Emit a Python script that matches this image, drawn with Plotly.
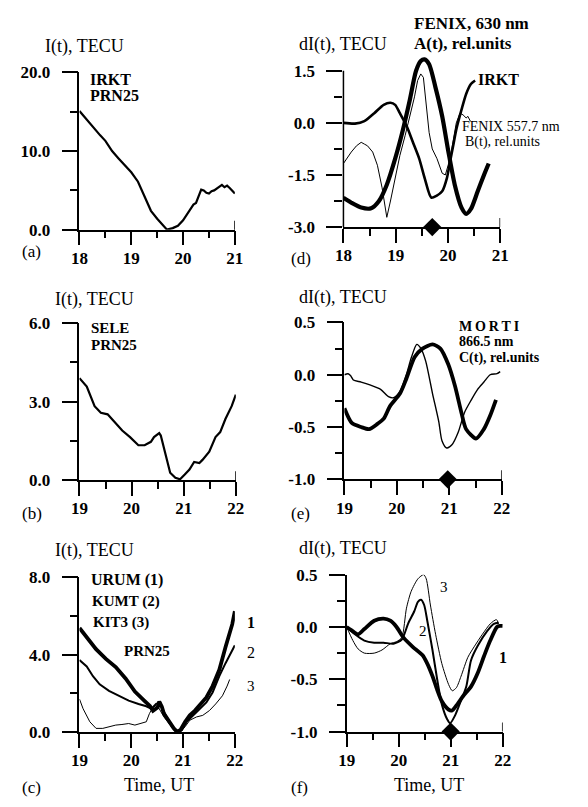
import plotly.graph_objects as go

W, H = 588, 807

# ---------------- data ----------------
# (a) IRKT PRN25, I(t)
t_a = [18.00, 18.10, 18.20, 18.30, 18.40, 18.50, 18.63, 18.75, 18.90, 19.00, 19.13, 19.26,
       19.38, 19.50, 19.63, 19.69, 19.80, 19.90, 20.00, 20.08, 20.13, 20.20, 20.25, 20.30,
       20.35, 20.40, 20.45, 20.50, 20.55, 20.60, 20.65, 20.70, 20.75, 20.80, 20.85, 20.90,
       20.95, 21.00]
i_a = [15.1, 14.3, 13.5, 12.8, 12.0, 11.3, 10.0, 9.1, 8.0, 7.3, 6.1, 4.1,
       2.4, 1.4, 0.5, 0.0, 0.2, 0.5, 1.2, 2.0, 2.6, 3.2, 3.4, 4.2,
       5.1, 5.0, 4.7, 4.6, 4.9, 5.0, 5.2, 5.5, 5.7, 5.4, 5.6, 5.3,
       4.9, 4.6]

# (b) SELE PRN25, I(t)
t_b = [19.00, 19.14, 19.29, 19.41, 19.54, 19.69, 19.82, 19.97, 20.13, 20.25, 20.37, 20.43,
       20.53, 20.56, 20.65, 20.74, 20.84, 20.93, 21.02, 21.11, 21.20, 21.30, 21.36, 21.49,
       21.61, 21.70, 21.80, 21.92, 22.00]
i_b = [3.90, 3.58, 2.83, 2.58, 2.52, 2.20, 1.90, 1.65, 1.34, 1.34, 1.47, 1.65,
       1.80, 1.71, 0.97, 0.29, 0.10, 0.04, 0.22, 0.41, 0.70, 0.66, 0.78, 1.09,
       1.65, 1.84, 2.34, 2.83, 3.27]

# (c) URUM (1), KUMT (2), KIT3 (3), PRN25
t_c1 = [19.00, 19.14, 19.32, 19.51, 19.70, 19.89, 20.07, 20.26, 20.36, 20.42, 20.51, 20.54,
        20.59, 20.63, 20.73, 20.82, 20.88, 20.95, 21.04, 21.13, 21.23, 21.32, 21.45, 21.57,
        21.70, 21.82, 21.95, 22.00]
i_c1 = [5.37, 4.87, 4.28, 3.78, 3.36, 2.77, 2.10, 1.61, 1.36, 1.11, 1.28, 1.58,
        1.32, 0.96, 0.54, 0.20, 0.03, 0.12, 0.54, 0.87, 1.12, 1.38, 1.79, 2.38,
        3.22, 4.39, 5.57, 6.24]
t_c2 = [19.00, 19.14, 19.26, 19.39, 19.57, 19.76, 19.95, 20.14, 20.29, 20.39, 20.48, 20.56,
        20.60, 20.70, 20.79, 20.88, 20.98, 21.07, 21.20, 21.32, 21.45, 21.57, 21.70, 21.82,
        21.95, 22.00]
i_c2 = [3.72, 3.39, 2.89, 2.47, 2.13, 1.88, 1.63, 1.46, 1.34, 1.21, 1.46, 1.54,
        1.21, 0.70, 0.29, 0.00, 0.12, 0.54, 0.87, 1.21, 1.54, 2.05, 2.89, 3.56,
        4.23, 4.48]
t_c3 = [19.00, 19.07, 19.20, 19.32, 19.45, 19.57, 19.70, 19.82, 19.95, 20.07, 20.20, 20.29,
        20.35, 20.42, 20.48, 20.54, 20.63, 20.76, 20.85, 20.95, 21.04, 21.13, 21.26, 21.38,
        21.51, 21.63, 21.76, 21.85, 21.90]
i_c3 = [1.71, 1.21, 0.54, 0.20, 0.20, 0.29, 0.37, 0.40, 0.45, 0.37, 0.45, 0.54,
        0.96, 1.29, 1.38, 1.21, 0.79, 0.37, 0.03, 0.03, 0.29, 0.62, 0.79, 0.87,
        1.12, 1.46, 1.88, 2.38, 2.72]

# (d) IRKT dI(t), FENIX 630 nm A(t), FENIX 557.7 nm B(t)
t_d_irkt = [18.00, 18.22, 18.40, 18.59, 18.77, 18.90, 18.99, 19.08, 19.21, 19.33, 19.45, 19.56,
            19.68, 19.78, 19.89, 19.98, 20.04, 20.10, 20.16, 20.26, 20.35, 20.44, 20.52]
d_irkt = [0.00, -0.02, 0.05, 0.28, 0.52, 0.58, 0.52, 0.28, -0.09, -0.56, -1.03, -1.62,
          -2.15, -2.10, -1.97, -1.59, -1.12, -0.66, -0.19, 0.38, 0.84, 1.12, 1.22]
t_d_a = [18.00, 18.15, 18.34, 18.53, 18.68, 18.83, 18.99, 19.14, 19.27, 19.39, 19.48, 19.55,
         19.64, 19.76, 19.89, 20.01, 20.13, 20.26, 20.35, 20.44, 20.57, 20.69, 20.78]
a_630 = [-2.16, -2.30, -2.44, -2.46, -2.25, -1.78, -1.03, -0.19, 0.66, 1.50, 1.78, 1.83,
         1.69, 1.03, 0.19, -0.84, -1.78, -2.44, -2.62, -2.48, -1.97, -1.50, -1.17]
t_d_b = [18.00, 18.06, 18.15, 18.25, 18.34, 18.40, 18.46, 18.56, 18.65, 18.74, 18.83, 18.90,
         18.99, 19.08, 19.18, 19.27, 19.36, 19.42, 19.48, 19.53, 19.58, 19.64, 19.70, 19.79,
         19.89, 19.95, 20.04, 20.10, 20.16, 20.23, 20.29, 20.35, 20.38, 20.43]
b_557 = [-1.17, -1.03, -0.84, -0.66, -0.56, -0.61, -0.66, -0.84, -1.22, -1.87, -2.72, -2.25,
         -1.59, -0.94, -0.37, 0.19, 0.75, 1.22, 1.41, 1.31, 0.66, -0.28, -0.75, -1.03,
         -1.45, -1.50, -1.03, -0.56, 0.00, 0.28, 0.23, 0.14, 0.19, 0.05]
t_d_mark = [19.7]

# (e) SELE dI(t), MORTI 866.5 nm C(t)
t_e_c = [19.00, 19.14, 19.32, 19.47, 19.63, 19.75, 19.87, 20.06, 20.18, 20.34, 20.49, 20.68,
         20.83, 20.98, 21.11, 21.23, 21.32, 21.51, 21.66, 21.78, 21.89]
c_866 = [-0.32, -0.46, -0.50, -0.52, -0.47, -0.42, -0.30, -0.18, -0.04, 0.17, 0.25, 0.29,
         0.25, 0.10, -0.11, -0.36, -0.52, -0.61, -0.52, -0.39, -0.24]
t_e_sele = [19.00, 19.07, 19.12, 19.17, 19.32, 19.50, 19.69, 19.84, 19.94, 20.06, 20.18, 20.28,
            20.38, 20.46, 20.55, 20.68, 20.80, 20.86, 20.95, 21.05, 21.17, 21.29, 21.42, 21.54,
            21.66, 21.78, 21.91, 21.97]
d_sele = [0.00, 0.01, -0.01, -0.05, -0.07, -0.10, -0.14, -0.21, -0.22, -0.16, 0.00, 0.17,
          0.29, 0.25, 0.13, -0.18, -0.45, -0.63, -0.70, -0.67, -0.55, -0.36, -0.24, -0.14,
          -0.07, 0.00, 0.01, 0.03]
t_e_mark = [20.97]

# (f) dI(t) for URUM (1), KUMT (2), KIT3 (3)
t_f1 = [19.00, 19.09, 19.22, 19.34, 19.53, 19.71, 19.84, 19.96, 20.09, 20.27, 20.46, 20.55,
        20.65, 20.74, 20.83, 20.96, 21.02, 21.11, 21.24, 21.39, 21.52, 21.64, 21.76, 21.89,
        21.95, 22.00]
d_f1 = [0.00, -0.03, -0.07, -0.02, 0.06, 0.08, 0.06, 0.00, -0.10, -0.19, -0.27, -0.35,
        -0.47, -0.60, -0.71, -0.79, -0.80, -0.75, -0.66, -0.57, -0.44, -0.28, -0.13, 0.00,
        0.01, 0.01]
t_f2 = [19.00, 19.16, 19.34, 19.53, 19.71, 19.90, 20.06, 20.18, 20.30, 20.37, 20.43, 20.49,
        20.55, 20.65, 20.74, 20.83, 20.93, 20.99, 21.08, 21.17, 21.30, 21.39, 21.52, 21.70,
        21.83, 21.92]
d_f2 = [0.00, -0.07, -0.13, -0.15, -0.15, -0.16, -0.12, 0.03, 0.15, 0.24, 0.26, 0.21,
        0.06, -0.22, -0.50, -0.74, -0.88, -0.92, -0.85, -0.74, -0.57, -0.32, -0.18, -0.04,
        0.03, 0.04]
t_f3 = [19.00, 19.12, 19.22, 19.34, 19.53, 19.68, 19.84, 19.96, 20.06, 20.15, 20.24, 20.37,
        20.48, 20.53, 20.61, 20.71, 20.83, 20.96, 21.03, 21.11, 21.20, 21.33, 21.45, 21.61,
        21.76, 21.88, 21.92]
d_f3 = [0.00, -0.13, -0.21, -0.25, -0.25, -0.22, -0.16, -0.14, -0.10, 0.18, 0.34, 0.46,
        0.50, 0.46, 0.21, -0.07, -0.35, -0.55, -0.61, -0.58, -0.47, -0.29, -0.19, -0.07,
        0.03, 0.07, 0.03]
t_f_mark = [21.0]

# ---------------- ticks ----------------
x_ticks_18 = [18, 19, 20, 21]
x_ticks_19 = [19, 20, 21, 22]
y_a_ticks, y_a_text = [0, 10, 20], ["0.0", "10.0", "20.0"]
y_b_ticks, y_b_text = [0, 3, 6], ["0.0", "3.0", "6.0"]
y_c_ticks, y_c_text = [0, 4, 8], ["0.0", "4.0", "8.0"]
y_d_ticks, y_d_text = [-3.0, -1.5, 0.0, 1.5], ["-3.0", "-1.5", "0.0", "1.5"]
y_ef_ticks, y_ef_text = [-1.0, -0.5, 0.0, 0.5], ["-1.0", "-0.5", "0.0", "0.5"]

SERIF = "Liberation Serif"
TICKFONT = dict(family=SERIF, size=17, color="black", weight="bold")


def px(x):
    return x / W


def py(y):
    return 1 - y / H


def half_steps(vals):
    return [(a + b) / 2 for a, b in zip(vals[:-1], vals[1:])]


def xaxis(dom, vals, anchor):
    return dict(domain=[px(dom[0]), px(dom[1])], range=[vals[0], vals[-1]], anchor=anchor,
                showline=True, linecolor="black", linewidth=1.5, showgrid=False, zeroline=False,
                ticks="outside", ticklen=14, tickwidth=1.5, tickcolor="black",
                tickmode="array", tickvals=vals, ticktext=[str(v) for v in vals],
                tickfont=TICKFONT, ticklabelstandoff=-2,
                minor=dict(tickmode="array", tickvals=half_steps(vals), ticks="outside",
                           ticklen=7, tickwidth=1.5, tickcolor="black", showgrid=False))


def yaxis(dom, vals, text, anchor, top=None, showline=True):
    hi = vals[-1] if top is None else top
    return dict(domain=[py(dom[1]), py(dom[0])], range=[vals[0], hi], anchor=anchor,
                showline=showline, linecolor="black", linewidth=1.5, showgrid=False,
                zeroline=False, ticks="outside", ticklen=16, tickwidth=1.5, tickcolor="black",
                tickmode="array", tickvals=vals, ticktext=text,
                tickfont=TICKFONT, ticklabelstandoff=8,
                minor=dict(tickmode="array", tickvals=half_steps(vals), ticks="outside",
                           ticklen=8, tickwidth=1.5, tickcolor="black", showgrid=False))


fig = go.Figure()


def line(x, y, ax, width, shape="linear"):
    fig.add_trace(go.Scatter(x=x, y=y, mode="lines", xaxis=ax[0], yaxis=ax[1],
                             line=dict(color="black", width=width, shape=shape, smoothing=0.7),
                             showlegend=False, hoverinfo="skip"))


def diamond(x, y, ax):
    fig.add_trace(go.Scatter(x=x, y=y, mode="markers", xaxis=ax[0], yaxis=ax[1],
                             marker=dict(symbol="diamond", size=14, color="black"),
                             cliponaxis=False, showlegend=False, hoverinfo="skip"))


A, D, B, E, C, F = ("x", "y"), ("x2", "y2"), ("x3", "y3"), ("x4", "y4"), ("x5", "y5"), ("x6", "y6")

line(t_a, i_a, A, 2.2)
line(t_b, i_b, B, 2.2)
line(t_c3, i_c3, C, 1.0)
line(t_c2, i_c2, C, 2.0)
line(t_c1, i_c1, C, 3.8)
line(t_d_b, b_557, D, 1.0)
line(t_d_irkt, d_irkt, D, 2.6, "spline")
line(t_d_a, a_630, D, 4.2, "spline")
diamond(t_d_mark, [-3.0], D)
line(t_e_sele, d_sele, E, 1.4, "spline")
line(t_e_c, c_866, E, 3.8, "spline")
diamond(t_e_mark, [-1.0], E)
line(t_f3, d_f3, F, 1.0, "spline")
line(t_f2, d_f2, F, 2.0, "spline")
line(t_f1, d_f1, F, 3.8, "spline")
diamond(t_f_mark, [-1.0], F)

# panel (d): the 630 nm peak rises above the top tick, so the plot area is
# extended upward and the y axis line is drawn only up to the last tick
D_TOP = 1.95
d_px_per_unit = (223.3 - 63.3) / 4.5
d_top_px = 63.3 - (D_TOP - 1.5) * d_px_per_unit

layout = dict(
    width=W, height=H, margin=dict(l=0, r=0, t=0, b=0),
    paper_bgcolor="white", plot_bgcolor="white", showlegend=False,
    xaxis=xaxis((72.7, 233), x_ticks_18, "y"),
    yaxis=yaxis((65, 226), y_a_ticks, y_a_text, "x"),
    xaxis2=xaxis((345, 506.7), x_ticks_18, "y2"),
    yaxis2=yaxis((d_top_px, 223.3), y_d_ticks, y_d_text, "x2", top=D_TOP, showline=False),
    xaxis3=xaxis((72.7, 234), x_ticks_19, "y3"),
    yaxis3=yaxis((321.7, 482.7), y_b_ticks, y_b_text, "x3"),
    xaxis4=xaxis((346, 508.3), x_ticks_19, "y4"),
    yaxis4=yaxis((321, 481.7), y_ef_ticks, y_ef_text, "x4"),
    xaxis5=xaxis((72.7, 233), x_ticks_19, "y5"),
    yaxis5=yaxis((581.7, 740.7), y_c_ticks, y_c_text, "x5"),
    xaxis6=xaxis((348.3, 509.3), x_ticks_19, "y6"),
    yaxis6=yaxis((579.3, 740), y_ef_ticks, y_ef_text, "x6"),
)
fig.update_layout(**layout)

fig.add_shape(type="line", xref="x2 domain", yref="y2", x0=0, x1=0,
              y0=y_d_ticks[0], y1=y_d_ticks[-1], line=dict(color="black", width=1.5))

# short upward tick at the right end of each time axis
for xr, yr, xe in [("x", "y", 21), ("x2", "y2", 21), ("x3", "y3", 22),
                   ("x4", "y4", 22), ("x6", "y6", 22)]:
    fig.add_shape(type="line", xref=xr, yref=yr + " domain", ysizemode="pixel", yanchor=0,
                  x0=xe, x1=xe, y0=0, y1=9, line=dict(color="black", width=1.5))


def label(text, x, y, size=18, bold=False, anchor="left"):
    fig.add_annotation(text=text, x=px(x), y=py(y), xref="paper", yref="paper",
                       xanchor=anchor, yanchor="middle", showarrow=False,
                       font=dict(family=SERIF, size=size, color="black",
                                 weight="bold" if bold else "normal"))


# axis titles
label("I(t), TECU", 35, 38)
label("I(t), TECU", 45, 297)
label("I(t), TECU", 45, 555)
label("dI(t), TECU", 297, 36)
label("dI(t), TECU", 297, 295)
label("dI(t), TECU", 297, 553)
label("Time, UT", 155, 795, anchor="center")
label("Time, UT", 433, 795, anchor="center")

# panel letters
for txt, x, y in [("(a)", 11, 248), ("(b)", 11, 517), ("(c)", 11, 797),
                  ("(d)", 289, 256), ("(e)", 289, 517), ("(f)", 289, 797)]:
    label(txt, x, y, 17)

# station / instrument labels
label("IRKT", 82, 72, 16, True)
label("PRN25", 82, 89, 16, True)
label("SELE", 83, 327, 15, True)
label("PRN25", 83, 344, 15, True)
label("URUM (1)", 83, 585, 16, True)
label("KUMT (2)", 84, 607, 15, True)
label("KIT3 (3)", 85, 628, 15, True)
label("PRN25", 117, 657, 15, True)
label("1", 243, 628, 16, True)
label("2", 243, 659, 16)
label("3", 243, 693, 15)

label("FENIX, 630 nm", 416, 15, 17, True)
label("A(t), rel.units", 416, 35, 17, True)
label("IRKT", 482, 72, 16, True)
label("FENIX 557.7 nm", 465, 120, 14)
label("B(t), rel.units", 468, 136, 14)

label("M\u2009O\u2009R\u2009T\u2009I", 462, 325, 14, True)
label("866.5 nm", 462, 341, 14, True)
label("C(t), rel.units", 462, 357, 14, True)

label("3", 443, 592, 15)
label("2", 421, 637, 15)
label("1", 503, 664, 16, True)

fig.write_html("out.html")
